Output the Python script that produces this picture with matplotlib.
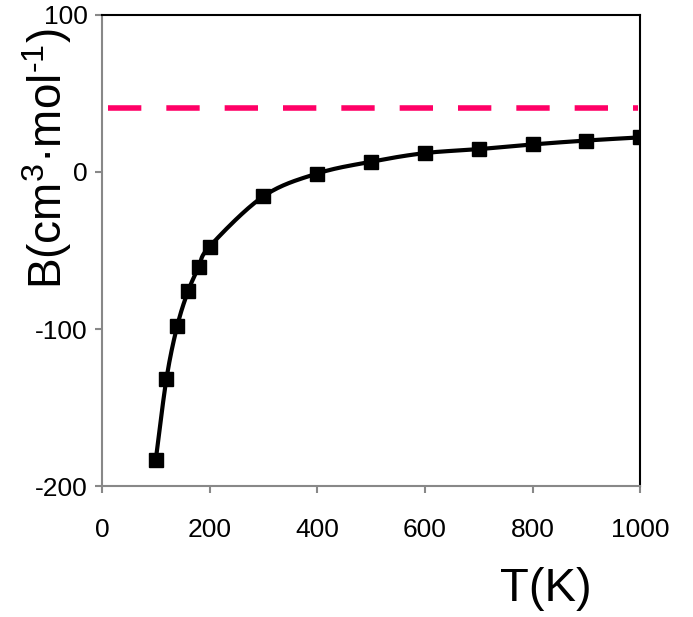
import numpy as np
import matplotlib.pyplot as plt

plt.rcParams['font.family'] = ['Liberation Sans', 'DejaVu Sans']
plt.rcParams['axes.unicode_minus'] = False
plt.rcParams['mathtext.fontset'] = 'custom'
plt.rcParams['mathtext.rm'] = 'Liberation Sans'
plt.rcParams['mathtext.it'] = 'Liberation Sans'

# data
T = [100, 120, 140, 160, 180, 200, 300, 400, 500, 600, 700, 800, 900, 1000]
B = [-183.5, -131.5, -98, -76, -60.5, -47.5, -15.5, -1, 6.5, 12, 14.5, 17.5, 20, 22]
B_limit = 41


def smooth(x, y, n=20):
    # catmull-rom curve through the points, like excel's smoothed line
    x = np.asarray(x, float)
    y = np.asarray(y, float)
    px = np.concatenate([[2 * x[0] - x[1]], x, [2 * x[-1] - x[-2]]])
    py = np.concatenate([[2 * y[0] - y[1]], y, [2 * y[-1] - y[-2]]])
    xs, ys = [], []
    t = np.linspace(0, 1, n)
    for i in range(1, len(px) - 2):
        for p, out in ((px, xs), (py, ys)):
            p0, p1, p2, p3 = p[i - 1], p[i], p[i + 1], p[i + 2]
            out.extend(0.5 * (2 * p1 + (-p0 + p2) * t
                              + (2 * p0 - 5 * p1 + 4 * p2 - p3) * t ** 2
                              + (-p0 + 3 * p1 - 3 * p2 + p3) * t ** 3))
    return xs, ys


fig = plt.figure(figsize=(6.93, 6.17), dpi=100)
ax = fig.add_axes([0.147, 0.212, 0.777, 0.764])

ax.axhline(B_limit, xmin=0.012, xmax=0.995, color='#ff0066', lw=4,
           dashes=(6, 4.5))
sx, sy = smooth(T, B)
ax.plot(sx, sy, color='black', lw=3, zorder=3)
ax.plot(T, B, ls='none', marker='s', ms=9.5, color='black', zorder=4)

ax.set_xlim(0, 1000)
ax.set_ylim(-200, 100)
ax.set_xticks(range(0, 1001, 200))
ax.set_yticks([-200, -100, 0, 100])

for s in ['left', 'bottom']:
    ax.spines[s].set_color('#888888')
    ax.spines[s].set_linewidth(1.5)
for s in ['top', 'right']:
    ax.spines[s].set_color('black')
    ax.spines[s].set_linewidth(1.5)
ax.tick_params(direction='out', length=5, width=1.5, color='#888888',
               labelsize=19, pad=5)
ax.tick_params(axis='x', pad=18)

fig.text(47 / 693, 1 - 159 / 617, 'B(cm$^{3}$·mol$^{\u2010 1}$)', fontsize=33,
         rotation=90, ha='center', va='center')
fig.text(546 / 693, 0.01, 'T(K)', fontsize=34, ha='center', va='bottom')

fig.savefig('out.png', dpi=100)
